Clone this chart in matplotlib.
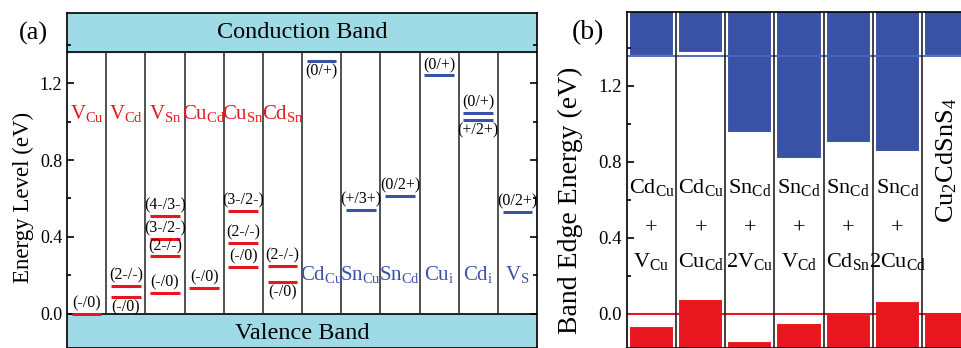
import matplotlib
matplotlib.use("Agg")
import matplotlib.pyplot as plt
from matplotlib.ticker import MultipleLocator

plt.rcParams['font.family'] = ['Liberation Serif', 'DejaVu Serif']
plt.rcParams['mathtext.fontset'] = 'custom'
plt.rcParams['mathtext.rm'] = 'Liberation Serif'
plt.rcParams['mathtext.it'] = 'Liberation Serif:italic'
plt.rcParams['axes.linewidth'] = 1.2

RED = '#e8161e'
BLUE = '#3a52a6'
BAND = '#9fdbe6'

# ---- panel (a): defect transition levels ----
defects_a = ['V_{Cu}', 'V_{Cd}', 'V_{Sn}', 'Cu_{Cd}', 'Cu_{Sn}', 'Cd_{Sn}',
             'Cd_{Cu}', 'Sn_{Cu}', 'Sn_{Cd}', 'Cu_{i}', 'Cd_{i}', 'V_{S}']
cbm_a = 1.36
level_col = [0, 1, 1, 2, 2, 2, 2, 3, 4, 4, 4, 5, 5, 6, 7, 8, 9, 10, 10, 11]
level_e = [0.0, 0.145, 0.088, 0.51, 0.39, 0.30, 0.11, 0.135, 0.535, 0.37,
           0.245, 0.25, 0.166, 1.315, 0.54, 0.613, 1.24, 1.045, 1.008, 0.53]
level_lab = ['(-/0)', '(2-/-)', '(-/0)', '(4-/3-)', '(3-/2-)', '(2-/-)', '(-/0)',
             '(-/0)', '(3-/2-)', '(2-/-)', '(-/0)', '(2-/-)', '(-/0)', '(0/+)',
             '(+/3+)', '(0/2+)', '(0/+)', '(0/+)', '(+/2+)', '(0/2+)']
level_above = [1, 1, 0, 1, 1, 1, 1, 1, 1, 1, 1, 1, 0, 0, 1, 1, 1, 1, 0, 1]

# ---- panel (b): band edges of defect complexes ----
complex_top = ['Cd_{Cu}', 'Cd_{Cu}', 'Sn_{Cd}', 'Sn_{Cd}', 'Sn_{Cd}', 'Sn_{Cd}']
complex_bot = ['V_{Cu}', 'Cu_{Cd}', '2V_{Cu}', 'V_{Cd}', 'Cd_{Sn}', '2Cu_{Cd}']
cbm_b = [1.355, 1.375, 0.95, 0.815, 0.90, 0.85, 1.36]
vbm_b = [-0.063, 0.08, -0.14, -0.05, 0.0, 0.07, 0.005]
bulk_cbm = 1.36


def m(s):
    return r'$\mathregular{' + s + '}$'


fig = plt.figure(figsize=(9.61, 3.48), dpi=100)

ax = fig.add_axes([67 / 961, 0, 470 / 961, 335 / 348])
n = len(defects_a)
ax.set_xlim(0, n)
ax.set_ylim(-0.177, 1.564)
ax.axhspan(cbm_a, 3, color=BAND, zorder=0)
ax.axhspan(-3, 0, color=BAND, zorder=0)
ax.axhline(cbm_a, color='k', lw=1.2, zorder=2)
ax.axhline(0, color='k', lw=1.2, zorder=2)
ax.vlines(range(1, n), 0, cbm_a, color='#333333', lw=1.2, zorder=2)
ax.text(n / 2, 1.465, 'Conduction Band', ha='center', va='center', fontsize=17.5)
ax.text(n / 2, -0.10, 'Valence Band', ha='center', va='center', fontsize=17.5)

for i, d in enumerate(defects_a):
    if i < 6:
        ax.text(i + 0.5, 1.012, m(d), color=RED, ha='center', va='baseline', fontsize=15)
    else:
        ax.text(i + 0.5, 0.177, m(d), color=BLUE, ha='center', va='baseline', fontsize=15)

for c, e, lab, up in zip(level_col, level_e, level_lab, level_above):
    col = RED if c < 6 else BLUE
    ax.hlines(e, c + 0.12, c + 0.88, color=col, lw=2.2, zorder=3)
    if up:
        ax.text(c + 0.5, e + 0.012, lab, ha='center', va='bottom', fontsize=11.5)
    else:
        ax.text(c + 0.5, e - 0.012, lab, ha='center', va='top', fontsize=11.5)

ax.set_xticks([])
ax.yaxis.set_major_locator(MultipleLocator(0.4))
ax.yaxis.set_minor_locator(MultipleLocator(0.2))
ax.tick_params(axis='y', which='both', direction='in', right=True, labelsize=13)
ax.tick_params(axis='y', which='major', length=5, width=1.2)
ax.tick_params(axis='y', which='minor', length=3, width=1.2)
ax.yaxis.set_major_formatter(matplotlib.ticker.FormatStrFormatter('%.1f'))
fig.text(23 / 961, 1 - 197 / 348, 'Energy Level (eV)', rotation=90,
         ha='center', va='center', fontsize=16.5)
fig.text(33 / 961, 1 - 33 / 348, '(a)', ha='center', va='center', fontsize=19)

# panel (b)
bx = fig.add_axes([627 / 961, 0, 344 / 961, 336 / 348])
nb = len(cbm_b)
bx.set_xlim(0, nb)
bx.set_ylim(-0.179, 1.589)
xs = [i + 0.5 for i in range(nb)]
bx.bar(xs, [3 - c for c in cbm_b], bottom=cbm_b, width=0.92, color=BLUE,
       edgecolor='white', lw=1.5, zorder=1)
bx.bar(xs, [v + 1 for v in vbm_b], bottom=-1, width=0.92, color=RED,
       edgecolor='white', lw=1.5, zorder=1)
bx.axhline(bulk_cbm, color='#4866c0', lw=1.3, zorder=2)
bx.axhline(0, color=RED, lw=1.5, zorder=2)
bx.vlines(range(1, nb), -1, 3, color='#222222', lw=1.2, zorder=3)

for i in range(len(complex_top)):
    bx.text(i + 0.5, 0.637, m(complex_top[i]), ha='center', va='baseline', fontsize=16)
    bx.text(i + 0.5, 0.447, '+', ha='center', va='center', fontsize=16)
    bx.text(i + 0.5, 0.247, m(complex_bot[i]), ha='center', va='baseline', fontsize=16)
bx.text(nb - 0.5, 0.81, m('Cu_{2}CdSnS_{4}'), rotation=90, ha='center', va='center',
        fontsize=19)

bx.set_xticks([])
bx.yaxis.set_major_locator(MultipleLocator(0.4))
bx.yaxis.set_minor_locator(MultipleLocator(0.2))
bx.tick_params(axis='y', which='both', direction='in', right=True, labelsize=13.5)
bx.tick_params(axis='y', which='major', length=5, width=1.2)
bx.tick_params(axis='y', which='minor', length=3, width=1.2)
bx.yaxis.set_major_formatter(matplotlib.ticker.FormatStrFormatter('%.1f'))
fig.text(570 / 961, 1 - 200 / 348, 'Band Edge Energy (eV)', rotation=90,
         ha='center', va='center', fontsize=20)
fig.text(588 / 961, 1 - 33 / 348, '(b)', ha='center', va='center', fontsize=20)

fig.savefig('out.png', dpi=100)
